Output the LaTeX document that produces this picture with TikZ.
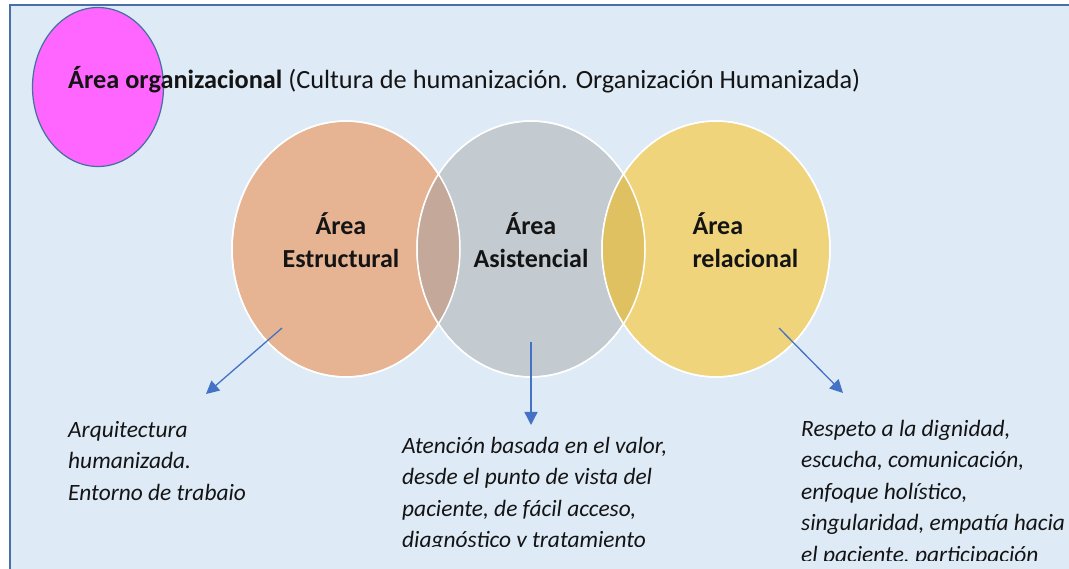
\documentclass[tikz,border=0pt]{standalone}
\usepackage{fontspec}
\setmainfont{Carlito}
\usetikzlibrary{shapes.geometric,arrows.meta}
\definecolor{panelbg}{HTML}{DEEAF6}
\definecolor{panelline}{HTML}{4A6EA8}
\definecolor{magentaC}{HTML}{FF66FF}
\definecolor{magline}{HTML}{41719C}
\definecolor{orangeC}{HTML}{E7B493}
\definecolor{grayC}{HTML}{C3CAD0}
\definecolor{yellowC}{HTML}{F0D47C}
\definecolor{ovOG}{HTML}{C4A99A}
\definecolor{ovGY}{HTML}{E0C162}
\definecolor{arrowC}{HTML}{4472C4}
\definecolor{txt}{HTML}{141414}
\tikzset{
  venn/.style={ellipse, minimum width=228pt, minimum height=256pt, inner sep=0pt, draw=white, line width=1.5pt},
  vennlabel/.style={font=\bfseries\fontsize{26}{33}\selectfont, text=txt, align=center},
  desc/.style={font=\itshape\fontsize{23.4}{31.5}\selectfont, text=txt, align=left, inner sep=0pt, anchor=base west},
  conn/.style={draw=arrowC, line width=1.3pt, -{Triangle[length=13pt,width=13pt]}},
}
\begin{document}
\begin{tikzpicture}[x=1pt,y=-1pt]
\useasboundingbox (0,0) rectangle (1069,569);
\fill[white] (0,0) rectangle (1069,569);
\fill[panelbg] (10,5) rectangle (1075,575);
\draw[panelline, line width=2pt] (10,575) -- (10,5) -- (1075,5);
% magenta ellipse
\node[ellipse, fill=magentaC, draw=magline, line width=1.2pt, minimum width=131pt, minimum height=159pt, inner sep=0pt] (mag) at (98,87) {};
\node[anchor=base west, inner sep=0pt, text=txt, font=\fontsize{26.3}{30}\selectfont] (title) at (68,89) {\textbf{Área organizacional} (Cultura de humanización. Organización Humanizada)};
% venn circles
\node[venn, fill=orangeC] (est) at (346,249) {};
\node[venn, fill=grayC] (asi) at (531,249) {};
\node[venn, fill=yellowC] (rel) at (716,249) {};
\begin{scope}
  \clip (346,249) ellipse [x radius=114pt, y radius=128pt];
  \fill[ovOG] (531,249) ellipse [x radius=114pt, y radius=128pt];
\end{scope}
\begin{scope}
  \clip (531,249) ellipse [x radius=114pt, y radius=128pt];
  \fill[ovGY] (716,249) ellipse [x radius=114pt, y radius=128pt];
\end{scope}
\draw[white, line width=1.5pt] (346,249) ellipse [x radius=114pt, y radius=128pt];
\draw[white, line width=1.5pt] (531,249) ellipse [x radius=114pt, y radius=128pt];
\draw[white, line width=1.5pt] (716,249) ellipse [x radius=114pt, y radius=128pt];
\node[vennlabel] (estl) at (341,240) {Área\\Estructural};
\node[vennlabel] (asil) at (531,240) {Área\\Asistencial};
\node[vennlabel, align=left, anchor=west] (rell) at (689,240) {Área\\relacional};
% descriptions (base anchor = baseline of last line)
\node[desc] (d1) at (68,500) {Arquitectura\\humanizada.\\Entorno de trabaio};
\begin{scope}
  \clip (390,400) rectangle (720,546);
  \node[desc] (d2) at (402,547.5) {Atención basada en el valor,\\desde el punto de vista del\\paciente, de fácil acceso,\\diagnóstico y tratamiento};
\end{scope}
\begin{scope}
  \clip (790,400) rectangle (1069,560);
  \node[desc] (d3) at (801,562) {Respeto a la dignidad,\\escucha, comunicación,\\enfoque holístico,\\singularidad, empatía hacia\\el paciente, participación};
\end{scope}
% connectors
\coordinate (s1) at (282,328);
\coordinate (e1) at (206,394);
\coordinate (s2) at (531,342);
\coordinate (e2) at (531,425);
\coordinate (s3) at (779,328);
\coordinate (e3) at (843,393);
\draw[conn] (s1) -- (e1);
\draw[conn] (s2) -- (e2);
\draw[conn] (s3) -- (e3);
\end{tikzpicture}
\end{document}
